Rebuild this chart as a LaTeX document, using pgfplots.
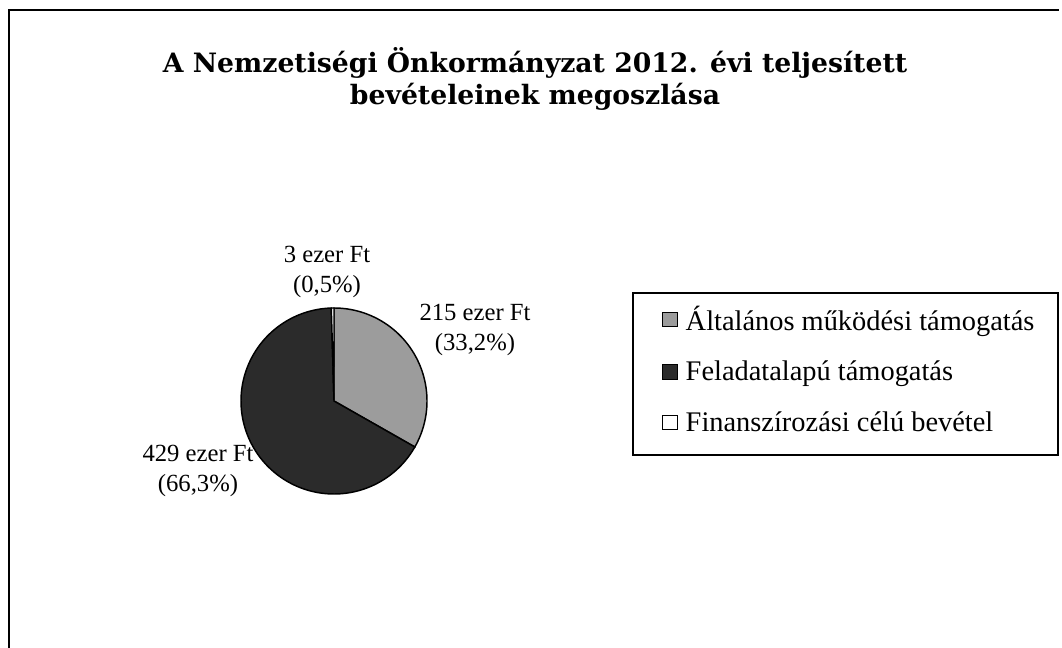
\documentclass[border=0pt]{standalone}
\usepackage{pgfplots}
\usepackage{pgfplotstable}
\pgfplotsset{compat=1.18}
\usepackage{fontspec}
\setmainfont{Liberation Serif}
\newfontfamily\titlefont{DejaVu Serif}
\definecolor{sliceA}{HTML}{9C9C9C}
\definecolor{sliceB}{HTML}{2B2B2B}
\pgfplotstableread{
name value
A 215
B 429
C 3
}\piedata
\pgfplotstablegetelem{0}{value}\of\piedata \let\vA\pgfplotsretval
\pgfplotstablegetelem{1}{value}\of\piedata \let\vB\pgfplotsretval
\pgfplotstablegetelem{2}{value}\of\piedata \let\vC\pgfplotsretval
\pgfmathsetmacro{\tot}{\vA+\vB+\vC}
\pgfmathsetmacro{\angA}{90}
\pgfmathsetmacro{\angB}{90-360*(\vA/\tot)}
\pgfmathsetmacro{\angC}{\angB-360*(\vB/\tot)}
\pgfmathsetmacro{\angD}{\angC-360*(\vC/\tot)}
\begin{document}
\begin{tikzpicture}
\begin{axis}[
  width=796.5pt, height=486pt, scale only axis,
  xmin=0, xmax=1062, ymin=0, ymax=648,
  hide axis, clip=false,
  legend style={at={(axis cs:662,345)}, anchor=north west, draw=none, fill=none,
    font=\fontsize{21.3}{25}\selectfont, row sep=17.5pt, column sep=4pt, inner sep=0pt,
    nodes={inner sep=2pt}},
  legend cell align=left,
  legend image code/.code={\draw[#1,line width=0.6pt] (0pt,-5.4pt) rectangle (11pt,5.4pt);},
]
\addplot[fill=sliceA, draw=black, line width=1.1pt, domain=\angB:\angA, samples=70, variable=\t]
  ({334+93*cos(\t)},{247+93*sin(\t)}) -- (axis cs:334,247) -- cycle;
\addlegendentry{Általános működési támogatás}
\addplot[fill=sliceB, draw=black, line width=1.1pt, domain=\angC:\angB, samples=140, variable=\t]
  ({334+93*cos(\t)},{247+93*sin(\t)}) -- (axis cs:334,247) -- cycle;
\addlegendentry{Feladatalapú támogatás}
\addplot[fill=white, draw=black, line width=1.1pt, domain=\angD:\angC, samples=5, variable=\t]
  ({334+93*cos(\t)},{247+93*sin(\t)}) -- (axis cs:334,247) -- cycle;
\addlegendentry{Finanszírozási célú bevétel}

\draw[line width=1.8pt] (axis cs:9,0) -- (axis cs:9,638) -- (axis cs:1059,638);
\draw[line width=1pt] (axis cs:633,355) rectangle (axis cs:1058,193);

\node[align=center, font=\titlefont\bfseries\fontsize{20}{24}\selectfont] at (axis cs:535,569)
  {A Nemzetiségi Önkormányzat 2012. évi teljesített\\bevételeinek megoszlása};

\node[align=center, font=\fontsize{18.5}{23}\selectfont] at (axis cs:327,376) {3 ezer Ft\\(0,5\%)};
\node[align=center, font=\fontsize{18.5}{23}\selectfont] at (axis cs:475,318) {215 ezer Ft\\(33,2\%)};
\node[align=center, font=\fontsize{18.5}{23}\selectfont] at (axis cs:198,177) {429 ezer Ft\\(66,3\%)};

\coordinate (LL) at (axis cs:0,0);
\coordinate (UR) at (axis cs:1062,648);
\end{axis}
\pgfresetboundingbox
\useasboundingbox (LL) rectangle (UR);
\end{tikzpicture}
\end{document}
